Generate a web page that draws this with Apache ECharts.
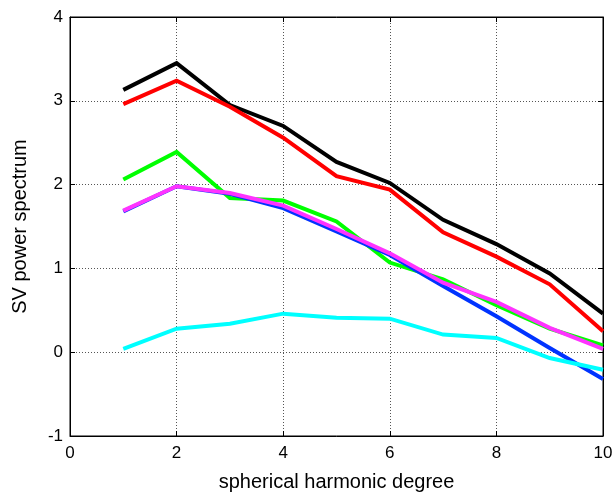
<!DOCTYPE html>
<html><head><meta charset="utf-8">
<script src="https://cdn.jsdelivr.net/npm/echarts@6/dist/echarts.min.js"></script>
<style>html,body{margin:0;padding:0;background:#fff}#c{width:613px;height:493px}</style>
</head><body><div id="c"></div>
<script>
const degrees = [1,2,3,4,5,6,7,8,9,10];
const blackVals   = [3.13,3.45,2.95,2.70,2.27,2.02,1.58,1.29,0.94,0.46];
const redVals     = [2.96,3.24,2.93,2.56,2.10,1.94,1.43,1.14,0.81,0.25];
const greenVals   = [2.06,2.39,1.84,1.81,1.56,1.07,0.87,0.56,0.28,0.08];
const blueVals    = [1.68,1.98,1.89,1.72,1.44,1.16,0.79,0.43,0.05,-0.32];
const magentaVals = [1.69,1.98,1.90,1.75,1.47,1.18,0.83,0.60,0.29,0.04];
const cyanVals    = [0.04,0.28,0.34,0.46,0.41,0.40,0.21,0.17,-0.07,-0.21];

const seriesDefs = [
  ['black', blackVals, '#000000'],
  ['red', redVals, '#ff0000'],
  ['green', greenVals, '#00ff00'],
  ['blue', blueVals, '#0033ff'],
  ['magenta', magentaVals, '#ff33ff'],
  ['cyan', cyanVals, '#00ffff']
];
const font = 'Liberation Sans, Arial, Helvetica, sans-serif';
const chart = echarts.init(document.getElementById('c'), null, {renderer:'canvas'});
const gridLine = {show:true, lineStyle:{color:'#555', type:[1,2], width:1}};
const tick = {show:true, inside:true, length:5, lineStyle:{color:'#000'}};
const line = {show:true, onZero:false, lineStyle:{color:'#000'}};
chart.setOption({
  animation:false,
  backgroundColor:'#fff',
  grid:{left:70, right:10, top:17, bottom:57, show:true, borderColor:'#000', borderWidth:1,
        containLabel:false, outerBoundsMode:'none'},
  xAxis:[{
    type:'value', min:0, max:10, interval:2,
    name:'spherical harmonic degree', nameLocation:'middle', nameGap:36,
    nameTextStyle:{fontFamily:font, fontSize:20, color:'#000'},
    axisLine:line, axisTick:tick,
    axisLabel:{fontFamily:font, fontSize:17, color:'#000', margin:9},
    splitLine:gridLine
  },{
    type:'value', min:0, max:10, interval:2, position:'top',
    axisLine:line, axisTick:tick,
    axisLabel:{show:false}, splitLine:{show:false}
  }],
  yAxis:[{
    type:'value', min:-1, max:4, interval:1,
    name:'SV power spectrum', nameLocation:'middle', nameGap:40,
    nameTextStyle:{fontFamily:font, fontSize:20, color:'#000'},
    axisLine:line, axisTick:tick,
    axisLabel:{fontFamily:font, fontSize:17, color:'#000', margin:7},
    splitLine:gridLine
  },{
    type:'value', min:-1, max:4, interval:1, position:'right',
    axisLine:line, axisTick:tick,
    axisLabel:{show:false}, splitLine:{show:false}
  }],
  series: seriesDefs.map(([name, vals, color]) => ({
    name, type:'line', xAxisIndex:0, yAxisIndex:0,
    data: degrees.map((d,i)=>[d, vals[i]]),
    showSymbol:false, symbol:'none',
    lineStyle:{color, width:4, join:'miter'},
    itemStyle:{color}
  }))
});
</script></body></html>
